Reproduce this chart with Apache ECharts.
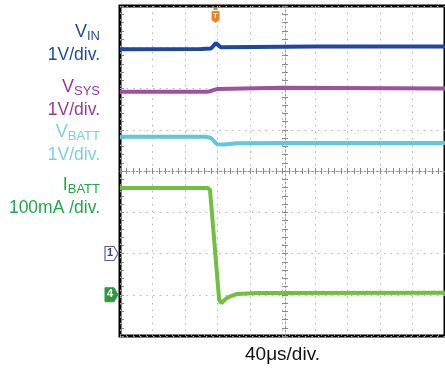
<!DOCTYPE html>
<html>
<head>
<meta charset="utf-8">
<script src="https://cdn.jsdelivr.net/npm/echarts@6/dist/echarts.min.js"></script>
<style>
  html, body { margin: 0; padding: 0; background: #fff; }
  #chart { width: 445px; height: 369px; }
</style>
</head>
<body>
<div id="chart"></div>
<script>
// time in divisions (40us/div), level in divisions from bottom of screen
const vin = [[0, 6.95], [2.5, 6.96], [2.8, 6.97], [2.95, 7.1], [3.1, 7.0], [6, 7.02], [10, 7.02]]
const vsys = [[0, 5.92], [2.7, 5.92], [3.0, 5.99], [5, 6.02], [10, 6.0]]
const vbatt = [[0, 4.83], [2.65, 4.83], [2.8, 4.8], [2.98, 4.65], [3.2, 4.64], [3.6, 4.67], [5, 4.68], [10, 4.68]]
const ibatt = [[0, 3.59], [2.7, 3.59], [2.77, 3.54], [3.05, 0.88], [3.12, 0.8], [3.3, 0.93], [3.6, 1.02], [4.2, 1.04], [10, 1.05]]

const triggerTime = 2.94
const ch1Level = 2.0
const ch4Level = 1.0

const labelColors = ['#1d4a9e', '#9c3a94', '#7dd0e2', '#1eaa48']
const traceColors = ['#1f46a2', '#a0509e', '#5ec8dc', '#6fc03c']

const myChart = echarts.init(document.getElementById('chart'))

const gridLine = { lineStyle: { color: '#b4b4b4', type: [1.5, 5.1], width: 1 } }
const hiddenLabel = { show: false }

function tickAxis(pos, offset, inside, len, showLine) {
  return {
    type: 'value', min: 0, max: pos === 'left' || pos === 'right' ? 8 : 10, interval: 0.2,
    position: pos, offset: offset,
    axisLine: { show: showLine, lineStyle: { color: '#9a9a9a', width: 1, type: [2, 2] } },
    axisTick: { show: true, inside: inside, length: len, lineStyle: { color: '#8a8a8a' } },
    axisLabel: hiddenLabel, splitLine: { show: false },
  }
}

const option = {
  animation: false,
  grid: { left: 120, top: 6, width: 330, height: 330, show: true, borderColor: '#000', borderWidth: 3 },
  xAxis: [
    { type: 'value', min: 0, max: 10, interval: 1, axisLine: { show: false }, axisTick: { show: false }, axisLabel: hiddenLabel, splitLine: gridLine },
    tickAxis('bottom', -165, true, 3, true),
    tickAxis('bottom', -165, false, 3, false),
    tickAxis('top', -2, true, 2, false),
  ],
  yAxis: [
    { type: 'value', min: 0, max: 8, interval: 1, axisLine: { show: false }, axisTick: { show: false }, axisLabel: hiddenLabel, splitLine: gridLine },
    tickAxis('left', -165, true, 3, true),
    tickAxis('left', -165, false, 3, false),
    tickAxis('left', -2, true, 2, false),
  ],
  series: [vin, vsys, vbatt, ibatt].map((d, i) => ({
    type: 'line',
    data: d,
    showSymbol: false,
    smooth: false,
    lineStyle: { color: traceColors[i], width: 4 },
    z: 5,
  })),
}

myChart.setOption(option)

// labels on the left, scope markers
const font = '"Liberation Sans", Arial, sans-serif'
function chanLabel(y, main, sub, scale, color) {
  return [
    {
      type: 'text', right: 345, top: y, z: 10,
      style: {
        text: '{m|' + main + '}{s|' + sub + '}',
        rich: {
          m: { fontSize: 18, fontFamily: font, fill: color, verticalAlign: 'top', lineHeight: 20 },
          s: { fontSize: 13, fontFamily: font, fill: color, padding: [6, 0, 0, 0], lineHeight: 20 },
        },
      },
    },
    {
      type: 'text', right: 345, top: y + 23, z: 10,
      style: { text: scale, font: '17.5px ' + font, fill: color },
    },
  ]
}

const p1 = myChart.convertToPixel({ gridIndex: 0 }, [0, ch1Level])
const p4 = myChart.convertToPixel({ gridIndex: 0 }, [0, ch4Level])
const pt = myChart.convertToPixel({ gridIndex: 0 }, [triggerTime, 8])
const pc = myChart.convertToPixel({ gridIndex: 0 }, [5, 0])

myChart.setOption({
  graphic: [
    ...chanLabel(23, 'V', 'IN', '1V/div.', labelColors[0]),
    ...chanLabel(78, 'V', 'SYS', '1V/div.', labelColors[1]),
    ...chanLabel(123, 'V', 'BATT', '1V/div.', labelColors[2]),
    ...chanLabel(176, 'I', 'BATT', '100mA /div.', labelColors[3]),
    {
      type: 'text', x: pc[0], y: 345, z: 10,
      style: { text: '40μs/div.', font: '19px ' + font, fill: '#111', align: 'center' },
    },
    {
      type: 'group', x: p1[0] - 15, y: p1[1] - 7, z: 10,
      children: [
        { type: 'polygon', shape: { points: [[0, 0], [9, 0], [13, 7], [9, 14], [0, 14]] }, style: { fill: '#fff', stroke: '#5860a8', lineWidth: 1.2 } },
        { type: 'text', style: { text: '1', x: 5, y: 1, font: 'bold 11px ' + font, fill: '#3a3f80', align: 'center' } },
      ],
    },
    {
      type: 'group', x: p4[0] - 15, y: p4[1] - 7, z: 10,
      children: [
        { type: 'polygon', shape: { points: [[0, 0], [9, 0], [13, 7], [9, 14], [0, 14]] }, style: { fill: '#2f9a3c', stroke: '#2f9a3c', lineWidth: 1 } },
        { type: 'text', style: { text: '4', x: 5, y: 1, font: 'bold 11px ' + font, fill: '#fff', align: 'center' } },
      ],
    },
    {
      type: 'group', x: pt[0] - 4, y: pt[1] + 2, z: 10,
      children: [
        { type: 'polygon', shape: { points: [[0, 3], [8, 3], [8, 12], [4, 15], [0, 12]] }, style: { fill: '#e8852a' } },
        { type: 'rect', shape: { x: 2, y: 0, width: 4, height: 2 }, style: { fill: '#e8852a' } },
        { type: 'text', style: { text: 'T', x: 4, y: 4, font: 'bold 8px ' + font, fill: '#fff', align: 'center' } },
      ],
    },
  ],
})
</script>
</body>
</html>
